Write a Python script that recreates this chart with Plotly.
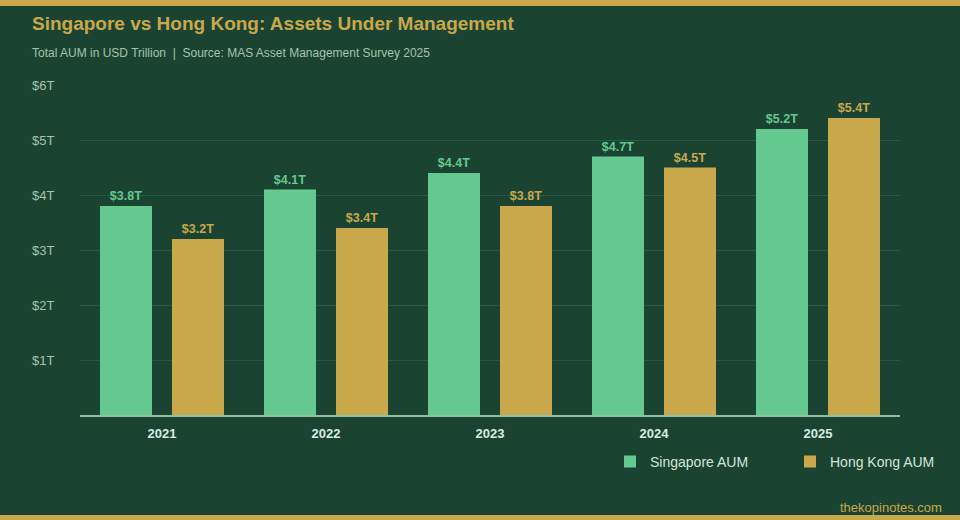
import plotly.graph_objects as go

years = ['2021', '2022', '2023', '2024', '2025']
singapore_aum = [3.8, 4.1, 4.4, 4.7, 5.2]
hong_kong_aum = [3.2, 3.4, 3.8, 4.5, 5.4]
y_ticks = [1, 2, 3, 4, 5, 6]
y_tick_text = ['$1T', '$2T', '$3T', '$4T', '$5T', '$6T']

BG = '#1b4332'
GREEN = '#63c98e'
GOLD = '#c9a84c'

fig = go.Figure()
fig.add_trace(go.Bar(x=years, y=singapore_aum, name='Singapore AUM', marker_color=GREEN,
                     marker_line_width=0,
                     texttemplate='$%{y:.1f}T', textposition='outside', cliponaxis=False,
                     textfont=dict(color=GREEN, size=12.5, family='Liberation Sans', weight='bold')))
fig.add_trace(go.Bar(x=years, y=hong_kong_aum, name='Hong Kong AUM', marker_color=GOLD,
                     marker_line_width=0,
                     texttemplate='$%{y:.1f}T', textposition='outside', cliponaxis=False,
                     textfont=dict(color=GOLD, size=12.5, family='Liberation Sans', weight='bold')))

fig.update_layout(
    width=960, height=520,
    paper_bgcolor=BG, plot_bgcolor=BG,
    margin=dict(l=80, r=60, t=85, b=105, autoexpand=False),
    font=dict(family='Liberation Sans', color='#a3c4ad'),
    barmode='group', bargap=0.122, bargroupgap=0.278,
    title=dict(text='<b>Singapore vs Hong Kong: Assets Under Management</b>',
               x=32 / 960, xanchor='left', y=1 - 23 / 520, yanchor='middle',
               font=dict(size=19, color=GOLD, family='Liberation Sans')),
    xaxis=dict(showline=True, linecolor='#8fbf9f', linewidth=2, showgrid=False,
               ticks='outside', ticklen=5, tickcolor='rgba(0,0,0,0)',
               tickfont=dict(size=13, color='#d8eee0', weight='bold')),
    yaxis=dict(range=[0, 6], tickvals=y_ticks, ticktext=y_tick_text, showgrid=True,
               gridcolor='#285a43', gridwidth=1, zeroline=False,
               ticks='outside', ticklen=22, tickcolor='rgba(0,0,0,0)',
               tickfont=dict(size=13, color='#a3c4ad')),
    legend=dict(orientation='h', x=(610 - 80) / 820, xanchor='left', y=-0.142, yanchor='middle',
                font=dict(size=14, color='#d0e6d8'), itemwidth=30, traceorder='normal',
                entrywidth=135, bgcolor='rgba(0,0,0,0)'),
    shapes=[
        dict(type='rect', xref='paper', yref='paper', x0=-80 / 820, x1=1 + 60 / 820,
             y0=1 + 85 / 330, y1=1 + 79 / 330, fillcolor=GOLD, line_width=0),
        dict(type='rect', xref='paper', yref='paper', x0=-80 / 820, x1=1 + 60 / 820,
             y0=-105 / 330, y1=-100 / 330, fillcolor=GOLD, line_width=0),
    ],
    annotations=[
        dict(text='Total AUM in USD Trillion  |  Source: MAS Asset Management Survey 2025',
             xref='paper', yref='paper', x=-50 / 820, y=1 + 32 / 330, xanchor='left', yanchor='middle',
             showarrow=False, font=dict(size=12, color='#a3c4ad')),
        dict(text='thekopinotes.com', xref='paper', yref='paper', x=1 + 44 / 820, y=-92 / 330,
             xanchor='right', yanchor='middle', showarrow=False, font=dict(size=13, color=GOLD)),
    ],
)

fig.write_html('out.html', config={'displayModeBar': False},
               post_script="document.body.style.margin='0';")
